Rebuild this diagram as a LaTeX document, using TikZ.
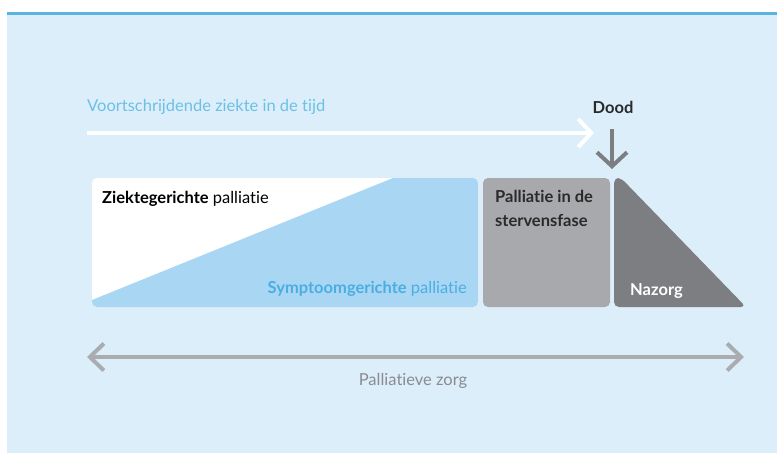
\documentclass[tikz,border=0pt]{standalone}
\usepackage{fontspec}
\setmainfont[Ligatures=NoCommon]{Lato}
\usetikzlibrary{arrows.meta,positioning}
\definecolor{bgblue}{HTML}{DCEEFA}
\definecolor{topblue}{HTML}{5BB3E4}
\definecolor{softblue}{HTML}{A9D6F3}
\definecolor{textblue}{HTML}{4BAEE3}
\definecolor{paleblue}{HTML}{6DC0E5}
\definecolor{midgray}{HTML}{A8A9AC}
\definecolor{darkgray}{HTML}{7D7E81}
\definecolor{arrowgray}{HTML}{AAACAF}
\definecolor{zorggray}{HTML}{8A8C8F}
\definecolor{inkgray}{HTML}{2A2A2A}

\tikzset{
	fase/.style={font=\fontsize{16.5}{24}\selectfont, inner sep=0pt},
	tijdpijl/.style={line width=4pt, white, -{Straight Barb[length=13pt,width=28pt]}},
	doodpijl/.style={line width=4pt, darkgray, -{Straight Barb[length=14pt,width=30pt]}},
	zorgpijl/.style={line width=4pt, arrowgray, {Straight Barb[length=14pt,width=27pt]}-{Straight Barb[length=14pt,width=27pt]}}
}

\begin{document}
\begin{tikzpicture}[x=1pt,y=-1pt]
			%%%%% START %%%%%
			\useasboundingbox (0,0) rectangle (777,453);
			\fill[white] (0,0) rectangle (777,453);
			\fill[bgblue] (7,14) rectangle (777,453);
			\fill[topblue] (7,12) rectangle (777,15);
			
			% ziektegerichte / symptoomgerichte
			\begin{scope}
				\clip[rounded corners=5pt] (92,178) rectangle (478,307);
				\fill[white] (92,178) rectangle (478,307);
				\fill[softblue] (92,300) -- (393,178) -- (478,178) -- (478,307) -- (92,307) -- cycle;
			\end{scope}
			\node[fase, anchor=base west, text=black] (ziekte) at (102,203) {\textbf{Ziektegerichte} palliatie};
			\node[fase, anchor=base east, text=textblue] (symptoom) at (467,293) {\textbf{Symptoomgerichte} palliatie};
			
			% stervensfase
			\fill[midgray, rounded corners=5pt] (483,178) rectangle (610,307);
			\node[fase, anchor=north west, text=inkgray, align=left, font=\fontsize{16.5}{24}\selectfont\bfseries] (sterven) at (495,190) {Palliatie in de\\stervensfase};
			
			% nazorg
			\fill[darkgray, rounded corners=5pt] (614,178) -- (621,178) -- (746,307) -- (614,307) -- cycle;
			\node[fase, anchor=base west, text=white, font=\fontsize{16.5}{24}\selectfont\bfseries] (nazorg) at (630,295) {Nazorg};
			
			% tijd
			\node[fase, anchor=base west, text=paleblue] (tijd) at (87,111) {Voortschrijdende ziekte in de tijd};
			\coordinate (tijdbegin) at (87,133);
			\coordinate (tijdeind) at (594,133);
			\draw[tijdpijl] (tijdbegin) -- (tijdeind);
			
			% dood
			\node[fase, text=inkgray, font=\fontsize{16.5}{24}\selectfont\bfseries] (dood) at (613,107) {Dood};
			\coordinate (doodbegin) at (612,129);
			\coordinate (doodeind) at (612,169);
			\draw[doodpijl] (doodbegin) -- (doodeind);
			
			% palliatieve zorg
			\coordinate (zorgbegin) at (87,357);
			\coordinate (zorgeind) at (744,357);
			\draw[zorgpijl] (zorgbegin) -- (zorgeind);
			\node[fase, anchor=base, text=zorggray] (zorg) at (413,385) {Palliatieve zorg};
			
			%%%%% END %%%%%
\end{tikzpicture}
\end{document}
